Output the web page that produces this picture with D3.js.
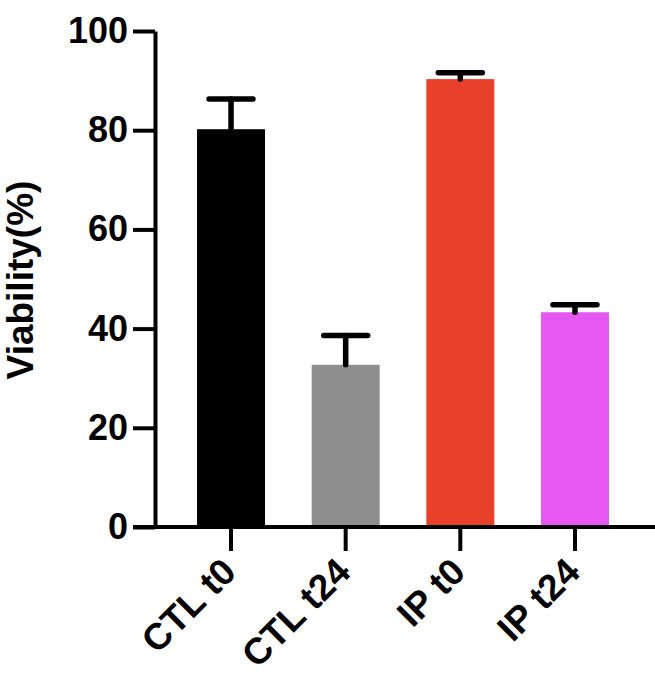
<!DOCTYPE html>
<html lang="en">
<head>
  <meta charset="UTF-8">
  <title>viability bars</title>
  <style>
    body { margin: 0; background: #fff; }
    svg text { font-family: "Liberation Sans", Arial, sans-serif; font-weight: 700; }
  </style>
</head>
<body>
  <div class="chart"></div>
  <script src="https://cdnjs.cloudflare.com/ajax/libs/d3/7.8.5/d3.min.js"></script>
  <script>
    const groups = ['CTL t0', 'CTL t24', 'IP t0', 'IP t24'];
    const means = [80.2, 32.7, 90.3, 43.3];
    const errors = [6.1, 5.9, 1.3, 1.5];
    const colors = ['#000000', '#8e8e8e', '#e8402a', '#e757f2'];
    const yTicks = [0, 20, 40, 60, 80, 100];

    const width = 655, height = 685;
    const axisX = 155, axisY = 527, topY = 31;

    const svg = d3.select('.chart')
      .append('svg')
      .attr('width', width)
      .attr('height', height);

    const y = d3.scaleLinear()
      .domain([0, 100])
      .range([axisY, topY]);

    const x = d3.scaleBand()
      .domain(groups)
      .range([173.7, 632.3])
      .paddingInner(0.407)
      .paddingOuter(0.2035);

    // bars
    svg.selectAll('rect.bar')
      .data(groups)
      .enter().append('rect')
      .attr('class', 'bar')
      .attr('x', d => x(d))
      .attr('width', x.bandwidth())
      .attr('y', (d, i) => y(means[i]))
      .attr('height', (d, i) => y(0) - y(means[i]))
      .attr('fill', (d, i) => colors[i]);

    // error bars (upper only)
    const capHalf = 22;
    const err = svg.selectAll('g.err')
      .data(groups)
      .enter().append('g')
      .attr('class', 'err')
      .attr('stroke', '#000')
      .attr('stroke-width', 5.5)
      .attr('stroke-linecap', 'round');

    err.append('line')
      .attr('x1', d => x(d) + x.bandwidth() / 2)
      .attr('x2', d => x(d) + x.bandwidth() / 2)
      .attr('y1', (d, i) => y(means[i]))
      .attr('y2', (d, i) => y(means[i] + errors[i]));

    err.append('line')
      .attr('x1', d => x(d) + x.bandwidth() / 2 - capHalf)
      .attr('x2', d => x(d) + x.bandwidth() / 2 + capHalf)
      .attr('y1', (d, i) => y(means[i] + errors[i]))
      .attr('y2', (d, i) => y(means[i] + errors[i]));

    // y axis
    const yAxis = svg.append('g')
      .attr('transform', `translate(${axisX},0)`)
      .call(d3.axisLeft(y).tickValues(yTicks).tickSize(22).tickSizeOuter(0).tickPadding(5));
    yAxis.selectAll('path, line').attr('stroke', '#000').attr('stroke-width', 4);
    yAxis.selectAll('text').attr('font-size', 36).attr('fill', '#000');

    // x axis
    svg.append('line')
      .attr('x1', axisX - 22)
      .attr('x2', width)
      .attr('y1', axisY)
      .attr('y2', axisY)
      .attr('stroke', '#000')
      .attr('stroke-width', 4);

    const xAxis = svg.append('g')
      .attr('transform', `translate(0,${axisY})`)
      .call(d3.axisBottom(x).tickSize(24).tickSizeOuter(0));
    xAxis.select('.domain').remove();
    xAxis.selectAll('line').attr('stroke', '#000').attr('stroke-width', 4);
    xAxis.selectAll('text')
      .attr('font-size', 37)
      .attr('fill', '#000')
      .attr('text-anchor', 'end')
      .attr('dy', null)
      .attr('y', null)
      .attr('transform', 'translate(7,47) rotate(-45)');

    // y title
    svg.append('text')
      .attr('transform', 'translate(33,280) rotate(-90)')
      .attr('text-anchor', 'middle')
      .attr('font-size', 37)
      .attr('fill', '#000')
      .text('Viability(%)');
  </script>
</body>
</html>
